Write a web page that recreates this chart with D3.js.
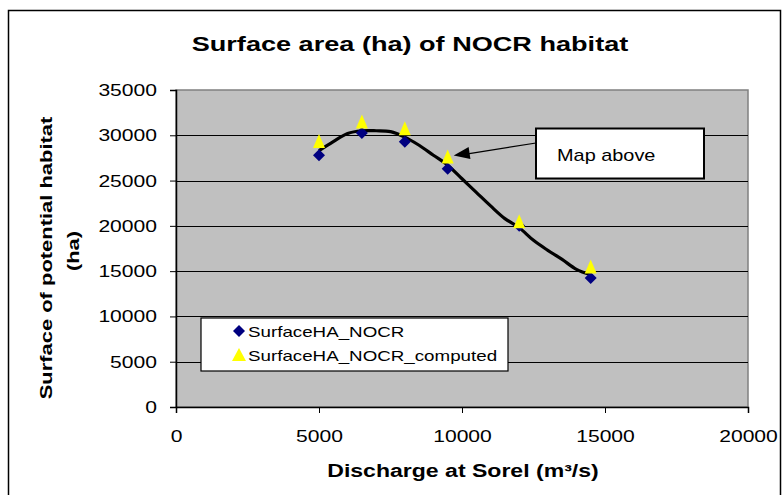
<!DOCTYPE html>
<html><head><meta charset="utf-8">
<script src="https://cdn.jsdelivr.net/npm/d3@7"></script>
<style>body{margin:0;background:#fff}svg{display:block}text{font-family:"Liberation Sans",Arial,sans-serif}</style>
</head><body>
<svg id="c" width="783" height="495"></svg>
<script>
const title = "Surface area (ha) of NOCR habitat";
const xTitle = "Discharge at Sorel (m³/s)";
const yTitle = ["Surface of potential habitat", "(ha)"];
const seriesNames = ["SurfaceHA_NOCR", "SurfaceHA_NOCR_computed"];
const xTicks = [0, 5000, 10000, 15000, 20000];
const yTicks = [0, 5000, 10000, 15000, 20000, 25000, 30000, 35000];
const discharge = [5000, 6500, 8000, 9500, 12000, 14500];
const surfaceObserved = [27800, 30250, 29300, 26300, 20000, 14250];
const surfaceComputed = [29150, 31300, 30550, 27450, 20300, 15300];
const curveX = [5000, 5500, 6000, 6500, 7000, 7500, 8000, 8500, 9000, 9500, 10000, 10500, 11000, 11500, 12000, 12500, 13000, 13500, 14000, 14500];
const curveY = [28300, 29300, 30200, 30500, 30500, 30400, 29800, 28900, 27800, 26700, 25200, 23700, 22200, 20800, 19800, 18400, 17300, 16300, 15200, 14600];
const annotation = {text: "Map above", x: 9500, y: 27450};

const svg = d3.select("#c");
const L = 176, R = 748, T = 90, B = 407;
const x = d3.scaleLinear().domain([0, 20000]).range([L, R]);
const y = d3.scaleLinear().domain([0, 35000]).range([B, T]);

function stretch(sel, k) {
  sel.each(function () {
    const w = this.getComputedTextLength();
    d3.select(this).attr("textLength", w * k).attr("lengthAdjust", "spacingAndGlyphs");
  });
  return sel;
}

// outer frame
svg.append("rect").attr("x", 8.5).attr("y", 10.5).attr("width", 772).attr("height", 500)
  .attr("fill", "#fff").attr("stroke", "#000").attr("stroke-width", 1.5);

// plot area
svg.append("rect").attr("x", L).attr("y", T).attr("width", R - L).attr("height", B - T)
  .attr("fill", "#C0C0C0").attr("stroke", "#808080").attr("stroke-width", 1.5);

// gridlines
svg.append("g").selectAll("line").data(yTicks.filter(d => d > 0 && d < 35000)).join("line")
  .attr("x1", L).attr("x2", R).attr("y1", d => Math.round(y(d)) + 0.5).attr("y2", d => Math.round(y(d)) + 0.5)
  .attr("stroke", "#000").attr("stroke-width", 1);

// axes
const xAxis = svg.append("g").attr("transform", `translate(0,${B})`)
  .call(d3.axisBottom(x).tickValues(xTicks).tickFormat(d3.format("d")).tickSize(6).tickPadding(17));
const yAxis = svg.append("g").attr("transform", `translate(${L},0)`)
  .call(d3.axisLeft(y).tickValues(yTicks).tickFormat(d3.format("d")).tickSize(6).tickPadding(13));
[xAxis, yAxis].forEach(g => {
  g.select(".domain").attr("stroke", "#000").attr("stroke-width", 1.5);
  g.selectAll(".tick line").attr("stroke", "#000");
  g.selectAll("text").attr("font-size", 17).attr("fill", "#000").style("font-family", '"Liberation Sans",Arial,sans-serif');
  stretch(g.selectAll("text"), 1.24);
});

// curve
const pts = curveX.map((d, i) => [d, curveY[i]]);
svg.append("path").datum(pts)
  .attr("d", d3.line().x(d => x(d[0])).y(d => y(d[1])).curve(d3.curveCatmullRom))
  .attr("fill", "none").attr("stroke", "#000").attr("stroke-width", 3.2).attr("stroke-linejoin", "round");

// markers
const diamond = "M0,-6L6,0L0,6L-6,0Z";
const triangle = "M0,-8L6,6L-6,6Z";
svg.append("g").selectAll("path").data(discharge).join("path")
  .attr("d", diamond).attr("fill", "#000080")
  .attr("transform", (d, i) => `translate(${x(d)},${y(surfaceObserved[i])})`);
svg.append("g").selectAll("path").data(discharge).join("path")
  .attr("d", triangle).attr("fill", "#FFFF00")
  .attr("transform", (d, i) => `translate(${x(d)},${y(surfaceComputed[i]) - 1})`);

// annotation
const bx = 536, by = 128.5, bw = 168, bh = 50;
svg.append("rect").attr("x", bx).attr("y", by).attr("width", bw).attr("height", bh)
  .attr("fill", "#fff").attr("stroke", "#000").attr("stroke-width", 2);
stretch(svg.append("text").attr("x", bx + 21).attr("y", by + 32)
  .attr("font-size", 17).text(annotation.text), 1.17);
const ax = x(annotation.x) + 6, ay = y(annotation.y) - 3;
svg.append("line").attr("x1", bx).attr("y1", 143).attr("x2", ax + 14).attr("y2", ay - 1.5)
  .attr("stroke", "#000").attr("stroke-width", 1.2);
const ang = Math.atan2(143 - ay, bx - ax);
svg.append("path").attr("d", "M0,0L16,-6L16,6Z")
  .attr("transform", `translate(${ax},${ay}) rotate(${ang * 180 / Math.PI})`).attr("fill", "#000");

// legend
const lg = svg.append("g");
lg.append("rect").attr("x", 201).attr("y", 318).attr("width", 307).attr("height", 53)
  .attr("fill", "#fff").attr("stroke", "#000").attr("stroke-width", 1.2);
lg.append("path").attr("d", diamond).attr("fill", "#000080").attr("transform", "translate(239,331)");
lg.append("path").attr("d", "M0,-7L7,6L-7,6Z").attr("fill", "#FFFF00").attr("transform", "translate(239,355)");
stretch(lg.append("text").attr("x", 248).attr("y", 337).attr("font-size", 15).text(seriesNames[0]), 1.25);
stretch(lg.append("text").attr("x", 248).attr("y", 361).attr("font-size", 15).text(seriesNames[1]), 1.25);

// titles
stretch(svg.append("text").attr("x", 410).attr("y", 51).attr("text-anchor", "middle")
  .attr("font-size", 21).attr("font-weight", "bold").text(title), 1.29);
stretch(svg.append("text").attr("x", 463).attr("y", 477).attr("text-anchor", "middle")
  .attr("font-size", 18).attr("font-weight", "bold").text(xTitle), 1.28);
stretch(svg.append("text").attr("transform", "translate(52,258) rotate(-90)").attr("text-anchor", "middle")
  .attr("font-size", 17).attr("font-weight", "bold").text(yTitle[0]), 1.29);
stretch(svg.append("text").attr("transform", "translate(79,251) rotate(-90)").attr("text-anchor", "middle")
  .attr("font-size", 17).attr("font-weight", "bold").text(yTitle[1]), 1.29);
</script>
</body></html>
